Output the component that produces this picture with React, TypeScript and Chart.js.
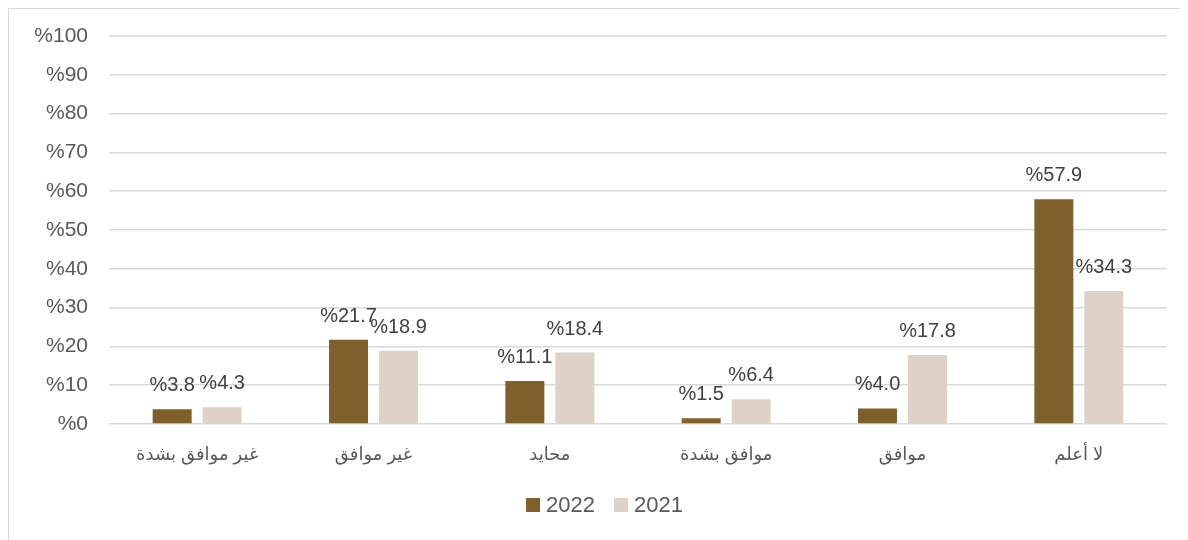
import React, { useEffect, useRef } from "react";
import { Chart, registerables } from "chart.js";

Chart.register(...registerables);

const categories = ["غير موافق بشدة", "غير موافق", "محايد", "موافق بشدة", "موافق", "لا أعلم"];
const values2022 = [3.8, 21.7, 11.1, 1.5, 4.0, 57.9];
const values2021 = [4.3, 18.9, 18.4, 6.4, 17.8, 34.3];
const seriesNames = ["2022", "2021"];
const seriesColors = ["#7f5f2a", "#dcd2c6"];
const yTicks = [0, 10, 20, 30, 40, 50, 60, 70, 80, 90, 100];

const FONT = "'Liberation Sans', 'DejaVu Sans', Arial, sans-serif";

const dataLabelPlugin = {
  id: "dataLabels",
  afterDatasetsDraw(chart: any) {
    const ctx = chart.ctx;
    ctx.save();
    ctx.font = `20px ${FONT}`;
    ctx.fillStyle = "#404040";
    ctx.textAlign = "center";
    ctx.textBaseline = "alphabetic";
    chart.data.datasets.forEach((ds: any, di: number) => {
      const meta = chart.getDatasetMeta(di);
      meta.data.forEach((el: any, i: number) => {
        const v = ds.data[i];
        ctx.fillText("%" + v.toFixed(1), el.x, el.y - 18);
      });
    });
    ctx.restore();
  },
};

const legendPlugin = {
  id: "customLegend",
  afterDraw(chart: any) {
    const ctx = chart.ctx;
    ctx.save();
    ctx.font = `22px ${FONT}`;
    const box = 14;
    const gapText = 6;
    const gapItem = 19;
    const widths = chart.data.datasets.map(
      (ds: any) => box + gapText + ctx.measureText(ds.label).width
    );
    const total = widths.reduce((a: number, b: number) => a + b, 0) + gapItem * (widths.length - 1);
    let x = chart.width / 2 + 6 - total / 2;
    const cy = chart.height - 35;
    chart.data.datasets.forEach((ds: any, i: number) => {
      ctx.fillStyle = ds.backgroundColor;
      ctx.fillRect(x, cy - box / 2, box, box);
      ctx.fillStyle = "#595959";
      ctx.textAlign = "left";
      ctx.textBaseline = "middle";
      ctx.fillText(ds.label, x + box + gapText, cy + 1);
      x += widths[i] + gapItem;
    });
    ctx.restore();
  },
};

export default function App() {
  const ref = useRef<HTMLCanvasElement>(null);
  useEffect(() => {
    if (!ref.current) return;
    const chart = new Chart(ref.current, {
      type: "bar",
      data: {
        labels: categories,
        datasets: [
          {
            label: seriesNames[0],
            data: values2022,
            backgroundColor: seriesColors[0],
            categoryPercentage: 0.567,
            barPercentage: 0.78,
          },
          {
            label: seriesNames[1],
            data: values2021,
            backgroundColor: seriesColors[1],
            categoryPercentage: 0.567,
            barPercentage: 0.78,
          },
        ],
      },
      options: {
        animation: false,
        responsive: true,
        maintainAspectRatio: false,
        layout: { padding: { top: 27, right: 21, bottom: 58, left: 0 } },
        plugins: {
          tooltip: { enabled: false },
          legend: { display: false },
        },
        scales: {
          x: {
            grid: { display: false, drawTicks: false },
            border: { display: false },
            ticks: {
              color: "#595959",
              font: { size: 18, family: FONT },
              padding: 20,
              maxRotation: 0,
            },
            afterFit(scale: any) {
              scale.height = 58;
              scale.paddingLeft = 0;
              scale.paddingRight = 0;
            },
          },
          y: {
            min: 0,
            max: 100,
            afterBuildTicks(scale: any) {
              scale.ticks = yTicks.map((v) => ({ value: v }));
            },
            grid: { color: "#d9d9d9", lineWidth: 1.5, drawTicks: false },
            border: { display: false },
            ticks: {
              color: "#595959",
              font: { size: 21, family: FONT },
              padding: 21,
              callback: (v: any) => "%" + v,
            },
            afterFit(scale: any) {
              scale.width = 100;
              scale.paddingTop = 0;
              scale.paddingBottom = 0;
            },
          },
        },
      },
      plugins: [dataLabelPlugin, legendPlugin],
    });
    return () => chart.destroy();
  }, []);
  return (
    <div
      style={{
        position: "relative",
        width: 1180,
        height: 532,
        boxSizing: "border-box",
        borderLeft: "1px solid #d9d9d9",
        borderTop: "1px solid #d9d9d9",
        background: "#ffffff",
      }}
    >
      <canvas ref={ref} />
    </div>
  );
}
